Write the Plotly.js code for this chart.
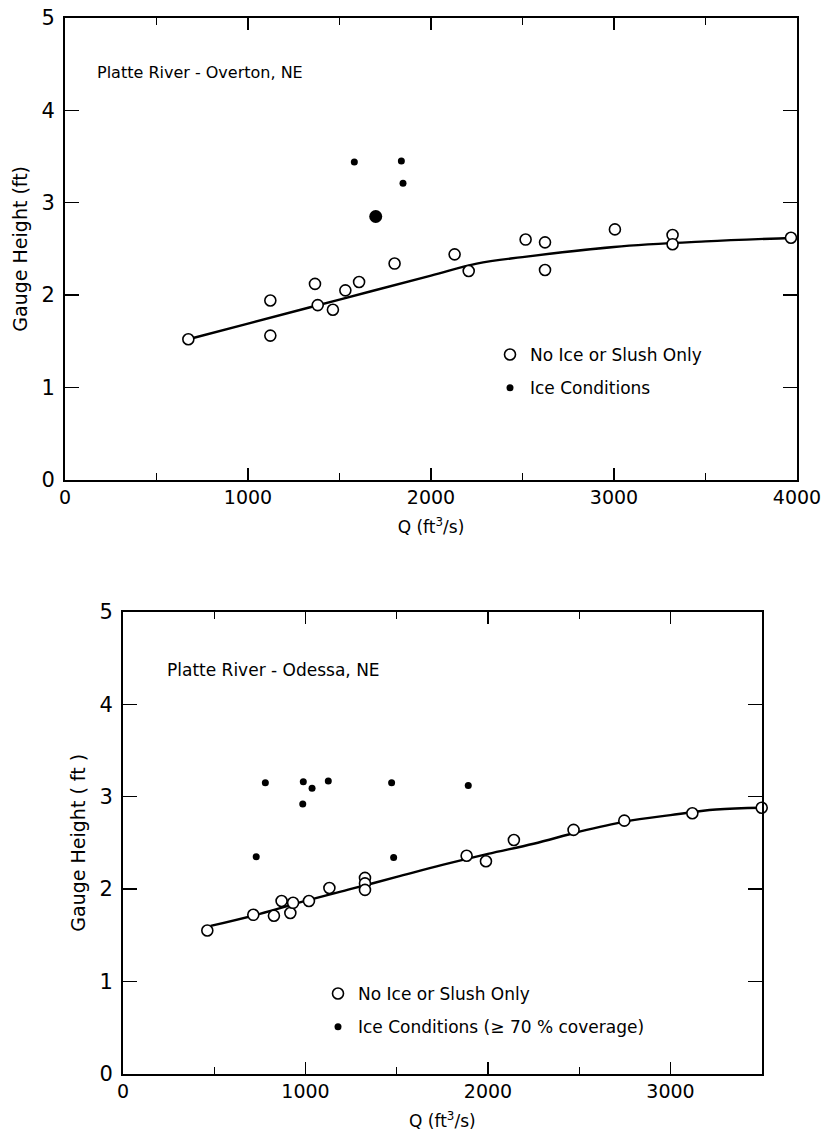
<!DOCTYPE html>
<html><head><meta charset="utf-8">
<script src="https://cdn.plot.ly/plotly-3.0.1.min.js"></script>
<style>body{margin:0;background:#fff}#c{width:826px;height:1139px}</style>
</head><body><div id="c"></div>
<script>
// ---- Top panel: Platte River - Overton, NE ----
const topOpenQ = [674,1122,1122,1366,1381,1464,1532,1607,1801,2129,2206,2517,2623,2623,3005,3320,3320,3967];
const topOpenH = [1.52,1.94,1.56,2.12,1.89,1.84,2.05,2.14,2.34,2.44,2.26,2.60,2.57,2.27,2.71,2.65,2.55,2.62];
const topIceQ = [1581,1838,1847];
const topIceH = [3.44,3.45,3.21];
const topIceBigQ = [1698];
const topIceBigH = [2.85];
const topCurveQ = [674,1000,1500,2000,2250,2500,3000,3500,4000];
const topCurveH = [1.52,1.69,1.95,2.21,2.34,2.41,2.52,2.58,2.62];

// ---- Bottom panel: Platte River - Odessa, NE ----
const botOpenQ = [462,714,827,869,917,932,1019,1131,1326,1326,1326,1883,1989,2142,2469,2747,3120,3500];
const botOpenH = [1.55,1.72,1.71,1.87,1.74,1.85,1.87,2.01,2.12,2.06,1.99,2.36,2.30,2.53,2.64,2.74,2.82,2.88];
const botIceQ = [730,780,985,988,1036,1125,1472,1483,1892];
const botIceH = [2.35,3.15,2.92,3.16,3.09,3.17,3.15,2.34,3.12];
const botCurveQ = [480,750,1000,1250,1500,1750,2000,2250,2500,2750,3000,3250,3500];
const botCurveH = [1.60,1.73,1.87,2.00,2.13,2.26,2.38,2.49,2.62,2.73,2.80,2.86,2.88];

const topXTicks = [0,1000,2000,3000,4000];
const botXTicks = [0,1000,2000,3000];
const yTicks = [0,1,2,3,4,5];

const FONT = 'DejaVu Sans, Liberation Sans, sans-serif';
const openMarker = {symbol:'circle', size:11, color:'#fff', line:{color:'#000', width:1.6}};
const iceMarker = {symbol:'circle', size:7, color:'#000', line:{width:0}};

const traces = [
  {x:topCurveQ, y:topCurveH, xaxis:'x', yaxis:'y', mode:'lines', line:{color:'#000', width:2.4, shape:'spline'}, showlegend:false, hoverinfo:'skip'},
  {x:topOpenQ, y:topOpenH, xaxis:'x', yaxis:'y', mode:'markers', marker:openMarker, name:'No Ice or Slush Only', legend:'legend', legendgroup:'a', cliponaxis:false},
  {x:topIceQ, y:topIceH, xaxis:'x', yaxis:'y', mode:'markers', marker:iceMarker, name:'Ice Conditions', legend:'legend', legendgroup:'b', cliponaxis:false},
  {x:topIceBigQ, y:topIceBigH, xaxis:'x', yaxis:'y', mode:'markers', marker:{symbol:'circle', size:13, color:'#000'}, showlegend:false},
  {x:botCurveQ, y:botCurveH, xaxis:'x2', yaxis:'y2', mode:'lines', line:{color:'#000', width:2.4, shape:'spline'}, showlegend:false, hoverinfo:'skip'},
  {x:botOpenQ, y:botOpenH, xaxis:'x2', yaxis:'y2', mode:'markers', marker:openMarker, name:'No Ice or Slush Only', legend:'legend2', legendgroup:'c', cliponaxis:false},
  {x:botIceQ, y:botIceH, xaxis:'x2', yaxis:'y2', mode:'markers', marker:iceMarker, name:'Ice Conditions (≥ 70 % coverage)', legend:'legend2', legendgroup:'d', cliponaxis:false}
];

function xAxis(domain, range, ticks, anchor){
  return {domain:domain, range:range, anchor:anchor, tickvals:ticks, ticktext:ticks.map(String),
    ticks:'inside', ticklen:12, tickwidth:1.5, tickcolor:'#000', mirror:'ticks',
    showline:true, linecolor:'#000', linewidth:2, showgrid:false, zeroline:false,
    minor:{dtick:500, tick0:0, ticks:'inside', ticklen:7, tickwidth:1.3, tickcolor:'#000', showgrid:false},
    tickfont:{family:FONT, size:19, color:'#000'}, ticklabelstandoff:0,
    title:{text:'Q (ft<sup>3</sup>/s)', font:{family:FONT, size:17, color:'#000'}, standoff:14},
    fixedrange:true};
}
function yAxis(domain, anchor, title){
  return {domain:domain, range:[0,5], anchor:anchor, tickvals:yTicks, ticktext:yTicks.map(String),
    ticks:'inside', ticklen:14, tickwidth:1.5, tickcolor:'#000', mirror:'ticks',
    showline:true, linecolor:'#000', linewidth:2, showgrid:false, zeroline:false,
    tickfont:{family:FONT, size:21, color:'#000'}, ticklabelstandoff:4,
    title:{text:title, font:{family:FONT, size:19, color:'#000'}, standoff:9}, fixedrange:true};
}

const legendBase = {xanchor:'left', yanchor:'top', bgcolor:'rgba(0,0,0,0)', borderwidth:0,
  font:{family:FONT, size:17, color:'#000'}, traceorder:'grouped', tracegroupgap:8, itemwidth:30};

const layout = {
  width:826, height:1139, margin:{l:0, r:0, t:0, b:0},
  paper_bgcolor:'#fff', plot_bgcolor:'#fff',
  xaxis:xAxis([65/826, 797/826], [0,4000], topXTicks, 'y'),
  yaxis:yAxis([1-479.6/1139, 1-18/1139], 'x', 'Gauge Height (ft)'),
  xaxis2:xAxis([123/826, 761.7/826], [0,3500], botXTicks, 'y2'),
  yaxis2:yAxis([1-1073.6/1139, 1-612/1139], 'x2', 'Gauge Height ( ft )'),
  legend:Object.assign({}, legendBase, {x:490/826, y:1-337/1139}),
  legend2:Object.assign({}, legendBase, {x:318/826, y:1-976/1139}),
  annotations:[
    {text:'Platte River - Overton, NE', xref:'paper', yref:'paper', x:95/826, y:1-72/1139, xanchor:'left', yanchor:'middle', showarrow:false, font:{family:FONT, size:16, color:'#000'}},
    {text:'Platte River - Odessa, NE', xref:'paper', yref:'paper', x:165/826, y:1-670/1139, xanchor:'left', yanchor:'middle', showarrow:false, font:{family:FONT, size:17, color:'#000'}}
  ]
};

Plotly.newPlot('c', traces, layout, {staticPlot:true, displayModeBar:false});
</script>
</body></html>
